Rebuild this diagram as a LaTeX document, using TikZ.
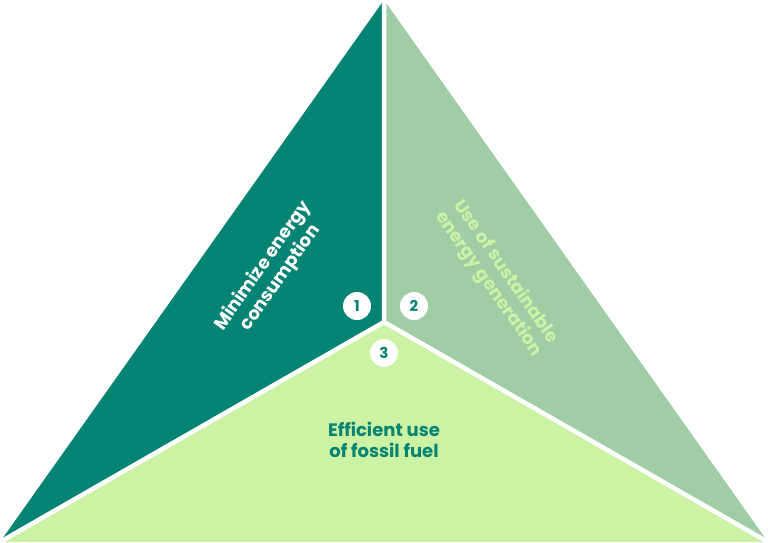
\documentclass[tikz,border=0pt]{standalone}
\usepackage{fontspec}
\setmainfont{Poppins}
\definecolor{dk}{HTML}{058373}
\definecolor{md}{HTML}{A0CDA6}
\definecolor{lt}{HTML}{CCF2A4}
\begin{document}
\begin{tikzpicture}[x=1pt,y=-1pt,
  lbl/.style={font=\fontsize{18}{21}\selectfont\bfseries,align=center},
  num/.style={circle,fill=white,minimum size=28pt,inner sep=0pt,text=dk,font=\fontsize{15}{15}\selectfont\bfseries}]
\useasboundingbox (0,0) rectangle (768,542);
\coordinate (A) at (384,0);
\coordinate (C) at (384,322);
\coordinate (L) at (0,542);
\coordinate (R) at (768,542);
\fill[dk] (A) -- (C) -- (L) -- cycle;
\fill[md] (A) -- (C) -- (R) -- cycle;
\fill[lt] (L) -- (C) -- (R) -- cycle;
\draw[white,line width=4.5pt] (A) -- (C) (L) -- (C) -- (R);
\node[lbl,text=white,rotate=55] (t1) at (272,272) {Minimize energy\\consumption};
\node[lbl,text=lt,rotate=-55] (t2) at (497,278) {Use of sustainable\\energy generation};
\node[lbl,text=dk] (t3) at (384,440) {Efficient use\\of fossil fuel};
\node[num] (n1) at (357,306) {1};
\node[num] (n2) at (414,306) {2};
\node[num] (n3) at (384,353) {3};
\end{tikzpicture}
\end{document}
